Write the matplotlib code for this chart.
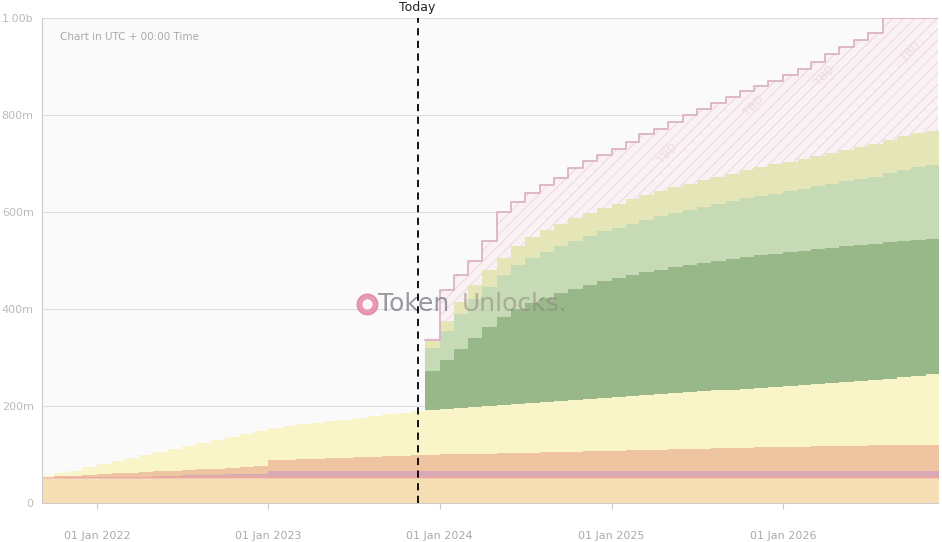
import matplotlib
matplotlib.use("Agg")
import matplotlib.pyplot as plt
import matplotlib.dates as mdates
import pandas as pd
import numpy as np

months = pd.date_range("2021-09-01", periods=63, freq="MS")
today = pd.Timestamp("2023-11-15")

# cumulative tops (millions), one value per month
base_top = [50]*63
pink_top = [52]*63
red_top = [52,53,53,53,54,54,54,54,55,55,55,55,55,55,55,55] + [56]*47
purple_top = [52,53,53,53,54,54,54,54,55,56,57,58,58,59,59,60] + [66]*47
orange_top = [53,55,56,58,59,61,62,64,65,67,68,70,71,73,74,76,88,89,90,91,92,93,94,95,96,97,98,
              99,100,101,101,102,103,103,104,105,106,106,107,108,108,109,110,110,111,112,112,113,
              114,114,115,115,116,116,117,117,118,118,119,119,120,120,120]
yellow_top = [55,61,67,74,80,86,92,99,105,111,117,124,130,136,142,149,155,158,162,165,169,172,176,
              179,183,186,190,192,194,196,198,200,202,204,206,208,210,212,214,216,218,220,222,224,
              226,228,230,232,234,236,238,240,242,244,246,248,250,252,254,256,259,262,265]
pre = [None]*27
dgreen_top = pre + [272,295,318,340,362,384,400,412,423,433,442,450,457,464,470,476,481,486,491,495,
                    499,503,507,511,514,517,520,523,526,529,532,535,538,541,543,545]
lgreen_top = pre + [320,355,390,420,445,470,490,505,518,530,541,551,560,568,576,584,591,598,604,610,
                    616,622,628,633,638,643,648,653,658,663,668,673,680,687,693,697]
olive_top = pre + [340,375,415,450,480,505,530,548,562,575,587,598,608,617,626,635,643,651,658,665,
                   672,679,686,692,698,704,710,716,722,728,734,740,748,756,763,768]
tbd_top = pre + [336,440,470,500,540,600,620,640,655,670,690,705,718,730,745,760,772,785,800,812,
                 825,838,850,860,870,882,895,910,925,940,955,970,1000,1000,1000,1000]

plt.rcParams["hatch.color"] = "#ecd3dc"
plt.rcParams["hatch.linewidth"] = 0.6
fig = plt.figure(figsize=(9.42, 5.42), dpi=100)
ax = fig.add_axes([42/942, 1-503/542, (938-42)/942, (503-18)/542])
ax.set_facecolor("#fafafa")

x = list(months) + [pd.Timestamp("2026-12-01")]
def ext(a):
    a = [np.nan if v is None else v for v in a]
    return np.array(a + [a[-1]], dtype=float)

layers = [
    (None, base_top, "#f5deb3"),
    (base_top, pink_top, "#f2c9b8"),
    (pink_top, red_top, "#e9a9a0"),
    (red_top, purple_top, "#d9a9b8"),
    (purple_top, orange_top, "#efc4a0"),
    (orange_top, yellow_top, "#faf5c8"),
]
for lo, hi, c in layers:
    lo_a = np.zeros(64) if lo is None else ext(lo)
    ax.fill_between(x, lo_a, ext(hi), step="post", color=c, lw=0)

yel_post = [None]*27 + yellow_top[27:]
for lo, hi, c in [(yel_post, dgreen_top, "#98b88a"), (dgreen_top, lgreen_top, "#c5dab5"),
                  (lgreen_top, olive_top, "#e5e6b8")]:
    ax.fill_between(x, ext(lo), ext(hi), step="post", color=c, lw=0)

ax.fill_between(x, ext(olive_top), ext(tbd_top), step="post", facecolor="#f9f1f4",
                hatch="///", lw=0)
ax.step(x, ext(tbd_top), where="post", color="#dbb3c6", lw=1.3)
for xi, yi in [(months[44], 720), (months[50], 820), (months[55], 880), (months[61], 930)]:
    ax.text(xi, yi, "TBD", color="#f0d8e0", fontsize=8, rotation=45, ha="center", va="center")

ax.set_xlim(pd.Timestamp("2021-09-06"), pd.Timestamp("2026-11-27"))
ax.set_ylim(0, 1000)
ax.set_yticks([0, 200, 400, 600, 800, 1000])
ax.set_yticklabels(["0", "200m", "400m", "600m", "800m", "1.00b"])
ax.set_xticks([pd.Timestamp(f"{y}-01-01") for y in range(2022, 2027)])
ax.xaxis.set_major_formatter(mdates.DateFormatter("01 Jan %Y"))
ax.tick_params(axis="y", length=0, colors="#bbbbbb", labelsize=8, pad=6)
ax.tick_params(axis="x", length=4, colors="#cccccc", labelcolor="#aaaaaa", labelsize=8, pad=20)
ax.grid(axis="y", color="#dddddd", lw=0.8)
ax.set_axisbelow(True)
for s in ["top", "right"]:
    ax.spines[s].set_visible(False)
ax.spines["left"].set_color("#cccccc")
ax.spines["bottom"].set_color("#cccccc")
for lab in ax.get_xticklabels():
    lab.set_va("center")

ax.axvline(today, color="black", ls=(0, (4, 3)), lw=1.3, zorder=5)
ax.text(today, 1008, "Today", ha="center", va="bottom", fontsize=9, color="#222222")
ax.text(0.02, 0.955, "Chart in UTC + 00:00 Time", transform=ax.transAxes, fontsize=7.5, color="#aaaaaa")
ax.text(0.375, 0.41, "Token", transform=ax.transAxes, fontsize=18, color="#555a66", alpha=0.6, ha="left", va="center")
ax.text(0.469, 0.41, "Unlocks.", transform=ax.transAxes, fontsize=18, color="#8a7c7a", alpha=0.5, ha="left", va="center")
ax.scatter([0.363], [0.41], s=220, color="#e07aa0", alpha=0.75, transform=ax.transAxes, zorder=6)
ax.scatter([0.363], [0.41], s=40, color="white", alpha=0.9, transform=ax.transAxes, zorder=7)

fig.savefig("out.png", dpi=100)
